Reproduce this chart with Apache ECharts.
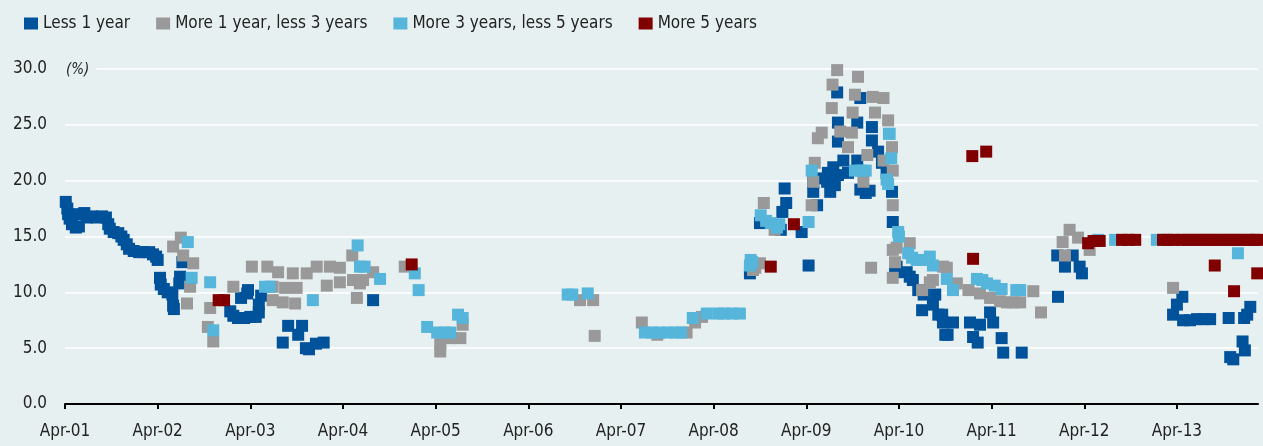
<!DOCTYPE html>
<html>
<head>
<meta charset="utf-8">
<script src="https://cdn.jsdelivr.net/npm/echarts@6/dist/echarts.min.js"></script>
<style>
  html, body { margin: 0; padding: 0; background: #e7f0f1; }
  #chart { width: 1263px; height: 446px; }
</style>
</head>
<body>
<div id="chart"></div>
<script>
// x = months since April 2001, y = percent
const seriesNames = ['Less 1 year', 'More 1 year, less 3 years', 'More 3 years, less 5 years', 'More 5 years'];
const xTickLabels = ['Apr-01','Apr-02','Apr-03','Apr-04','Apr-05','Apr-06','Apr-07','Apr-08','Apr-09','Apr-10','Apr-11','Apr-12','Apr-13'];
const yTickLabels = ['0.0','5.0','10.0','15.0','20.0','25.0','30.0'];

const less1Year = [
  [0.1,18.1],[0.3,17.5],[0.4,17.0],[0.6,16.6],[0.9,16.1],[1.4,15.8],[1.8,15.9],[1.8,17.0],[2.5,17.1],[2.8,16.7],
  [3.5,16.8],[4.1,16.7],[4.8,16.8],[5.3,16.7],[5.6,16.1],[5.8,15.7],[6.3,15.4],[6.9,15.3],[7.3,15.0],[7.6,14.7],
  [8.0,14.3],[8.3,13.9],[8.9,13.7],[9.6,13.6],[10.2,13.6],[10.9,13.6],[11.4,13.4],[11.8,13.2],[12.0,12.9],
  [12.3,11.3],[12.4,10.7],[12.8,10.3],[13.3,10.0],[13.9,9.8],[14.0,8.8],[14.1,8.5],[14.8,10.8],[14.9,11.4],[15.2,12.7],
  [21.4,8.3],[21.8,7.9],[22.4,7.7],[23.2,7.7],[24.0,7.8],[24.7,7.8],[25.1,8.2],[25.1,8.9],[25.4,9.7],[22.8,9.5],[23.6,9.9],[23.7,10.2],
  [28.2,5.5],[28.9,7.0],[30.7,7.0],[30.2,6.2],[31.2,5.0],[31.6,4.9],[32.5,5.4],[33.5,5.5],[39.9,9.3],
  [88.7,11.7],[90.0,16.2],[92.7,15.6],[92.9,17.2],[93.4,18.0],[93.2,19.3],[95.4,15.4],[96.3,12.4],[97.4,17.8],
  [96.9,19.0],[96.9,19.8],[98.7,19.9],[99.1,19.0],[98.8,20.7],[99.5,21.2],[100.1,20.5],[100.8,21.8],[101.4,20.7],
  [102.6,21.8],[100.1,25.2],[100.0,27.9],[102.6,25.2],[103.0,27.4],[103.0,19.2],[103.7,18.9],[104.2,19.1],
  [104.5,24.8],[104.5,23.6],[105.3,22.6],[105.8,21.6],[106.4,20.7],[107.1,19.0],[107.2,16.3],[100.1,23.5],
  [97.9,20.2],[99.7,19.6],
  [107.7,12.3],[109.0,11.8],[109.8,11.1],[110.5,10.2],[111.0,8.4],[111.2,9.8],[112.4,8.9],[112.7,9.8],[113.1,8.0],
  [113.6,8.0],[113.7,7.3],[114.0,6.2],[114.3,6.2],[115.0,7.3],[109.4,11.4],[107.5,11.8],
  [117.2,7.3],[118.5,7.1],[119.8,8.2],[120.2,7.3],[117.6,6.0],[118.2,5.5],[121.3,5.9],[121.5,4.6],[123.9,4.6],
  [128.6,9.6],[128.5,13.3],[129.5,12.3],[130.5,13.3],[131.4,12.3],[131.7,11.7],
  [143.5,8.0],[144.0,8.9],[144.7,9.6],[144.8,7.5],[145.7,7.5],[146.6,7.6],[147.5,7.6],[148.3,7.6],[150.7,7.7],
  [152.7,7.7],[153.1,8.0],[153.5,8.7],[152.5,5.6],[152.8,4.8],[151.3,4.0],[150.9,4.2]
];

const from1To3Years = [
  [14.0,14.1],[15.0,14.9],[15.3,13.3],[16.6,12.6],[16.2,10.5],[15.8,9.0],[18.8,8.6],[18.5,6.9],[19.2,5.6],
  [21.8,10.5],[24.2,12.3],[26.2,12.3],[27.6,11.8],[26.9,10.5],[28.5,10.4],[30.0,10.4],[26.9,9.3],[28.2,9.1],
  [29.8,9.0],[29.5,11.7],[31.3,11.7],[32.6,12.3],[34.3,12.3],[35.6,12.2],[33.9,10.6],[35.6,10.9],[37.3,11.1],
  [38.6,11.1],[37.2,13.3],[37.8,9.5],[39.9,11.8],[38.2,10.8],[44.0,12.3],
  [48.6,5.4],[48.6,4.7],[49.9,5.9],[51.2,5.9],[51.5,7.1],
  [66.7,9.3],[68.4,9.3],[68.6,6.1],
  [74.7,7.3],[76.7,6.2],[80.5,6.4],[81.6,7.3],[82.5,7.8],
  [89.1,12.0],[89.4,12.2],[90.0,12.6],[90.5,18.0],[91.9,15.6],[96.7,17.8],[97.1,21.6],[96.9,19.9],[97.5,23.8],
  [98.0,24.3],[99.3,26.5],[99.4,28.6],[100.0,29.9],[100.4,24.4],[101.4,23.0],[101.9,24.3],[102.0,26.1],
  [102.3,27.7],[102.7,29.3],[103.4,19.9],[103.9,22.3],[104.4,12.2],[104.6,27.5],[104.9,26.1],[106.0,27.4],
  [106.0,21.8],[106.6,25.4],[107.1,23.0],[107.2,20.9],[107.2,17.8],[107.2,13.8],[109.4,14.4],[107.5,12.7],
  [107.7,14.0],[107.2,11.3],
  [111.0,10.2],[112.0,10.9],[112.4,11.1],[113.7,12.3],[114.2,12.2],[115.5,10.8],[117.0,10.2],[118.5,9.9],
  [119.8,9.5],[121.1,9.2],[122.0,9.1],[122.8,9.1],[123.7,9.1],[125.4,10.1],[126.4,8.2],
  [129.2,14.5],[129.5,13.3],[130.1,15.6],[131.2,14.9],[132.7,13.8],[143.5,10.4]
];

const from3To5Years = [
  [15.9,14.5],[16.4,11.3],[18.8,10.9],[19.2,6.6],[25.9,10.5],[26.5,10.5],[32.1,9.3],[37.9,14.2],[38.2,12.3],
  [38.8,12.3],[40.8,11.2],[45.3,11.7],[45.8,10.2],
  [46.9,6.9],[48.2,6.4],[49.2,6.4],[49.9,6.4],[50.9,8.0],[51.5,7.7],
  [65.1,9.8],[65.7,9.8],[67.7,9.9],
  [75.1,6.4],[76.0,6.4],[77.0,6.4],[78.0,6.4],[79.0,6.4],[79.8,6.4],[81.3,7.7],[83.1,8.1],[84.6,8.1],
  [85.3,8.1],[86.4,8.1],[87.4,8.1],
  [89.0,12.7],[88.8,12.9],[88.7,12.4],[90.1,16.9],[90.8,16.4],[91.4,16.2],[92.2,15.8],[92.5,16.1],[96.3,16.3],
  [96.7,20.9],[102.3,20.9],[103.1,20.9],[103.7,20.9],[106.4,20.1],[106.6,19.7],[106.7,24.2],[106.8,24.2],
  [107.0,22.0],[107.9,15.4],[108.0,15.0],[109.2,13.5],[109.7,13.1],[110.3,12.9],[111.1,12.9],[112.0,13.2],
  [112.4,12.4],[114.2,11.2],[115.0,10.2],[118.1,11.2],[118.8,11.1],[119.4,10.8],[120.4,10.6],[121.3,10.3],
  [123.2,10.2],[123.7,10.2],
  [133.8,14.7],[136.0,14.7],[141.4,14.7],[151.9,13.5]
];

const over5Years = [
  [19.9,9.3],[20.6,9.3],[44.9,12.5],[91.4,12.3],[94.4,16.1],[117.5,22.2],[119.3,22.6],[117.6,13.0],
  [132.5,14.4],[133.2,14.6],[134.0,14.6],[136.9,14.7],[137.7,14.7],[138.6,14.7],
  [142.2,14.7],[142.8,14.7],[143.6,14.7],[144.6,14.7],[145.4,14.7],[146.2,14.7],[147.0,14.7],[147.8,14.7],
  [148.5,14.7],[149.3,14.7],[150.1,14.7],[150.9,14.7],[151.6,14.7],[152.4,14.7],[153.2,14.7],[154.0,14.7],
  [154.4,14.7],[148.9,12.4],[151.4,10.1],[154.4,11.7]
];

const seriesData = [less1Year, from1To3Years, from3To5Years, over5Years];
const seriesColors = ['#00529b', '#999999', '#56b5da', '#800000'];

const BG = '#e7f0f1';
const FONT = "'DejaVu Sans Condensed', 'Liberation Sans Narrow', sans-serif";
const tickMonths = xTickLabels.map((_, i) => i * 12);

const chart = echarts.init(document.getElementById('chart'), null, { renderer: 'canvas' });
chart.setOption({
  backgroundColor: BG,
  animation: false,
  textStyle: { fontFamily: FONT },
  legend: {
    left: 19, top: 10,
    icon: 'rect', itemWidth: 14, itemHeight: 12, itemGap: 26,
    textStyle: { fontFamily: FONT, fontSize: 17, color: '#222' },
    data: seriesNames
  },
  grid: { left: 65, right: 5, top: 69, bottom: 42, containLabel: false },
  xAxis: {
    type: 'value', min: 0, max: 154.5,
    splitLine: { show: false },
    axisLine: { show: true, lineStyle: { color: '#000', width: 2 } },
    axisTick: { show: true, customValues: tickMonths, length: 5, lineStyle: { color: '#000', width: 2 } },
    axisLabel: {
      customValues: tickMonths, margin: 19,
      fontFamily: FONT, fontSize: 17, color: '#222',
      formatter: v => xTickLabels[Math.round(v / 12)] || ''
    }
  },
  yAxis: {
    type: 'value', min: 0, max: 30, interval: 5,
    axisLine: { show: false }, axisTick: { show: false },
    splitLine: { show: true, lineStyle: { color: '#ffffff', width: 1.6 } },
    axisLabel: {
      margin: 18, fontFamily: FONT, fontSize: 17, color: '#222',
      formatter: v => yTickLabels[Math.round(v / 5)]
    }
  },
  graphic: [{
    type: 'text', left: 66, top: 61, z: 100,
    style: {
      text: '(%)', fill: '#222', font: "italic 15px 'DejaVu Sans Condensed', sans-serif",
      backgroundColor: BG, padding: [2, 7, 2, 0]
    }
  }],
  series: seriesNames.map((name, i) => ({
    name, type: 'scatter', symbol: 'rect', symbolSize: 12,
    itemStyle: { color: seriesColors[i], opacity: 1 },
    data: seriesData[i], z: 2 + i
  }))
});
</script>
</body>
</html>
